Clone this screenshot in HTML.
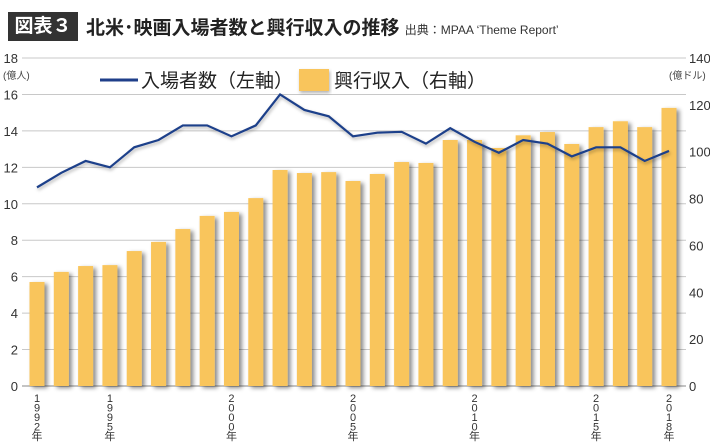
<!DOCTYPE html>
<html><head><meta charset="utf-8"><style>
body{margin:0;width:710px;height:448px;background:#fff;font-family:"Liberation Sans","Noto Sans CJK JP",sans-serif;overflow:hidden;position:relative}
.hdr{position:absolute;left:8px;top:12px;width:70px;height:29px;background:#333;color:#fff;font-weight:bold;font-size:19px;line-height:29px;text-align:center}
.title{position:absolute;left:86px;top:13px;font-size:19px;font-weight:bold;color:#222;white-space:nowrap}
.src{font-size:12px;font-weight:normal;color:#333}
svg{position:absolute;left:0;top:0}
</style></head><body>
<div class="hdr">図表３</div>
<div class="title">北米･映画入場者数と興行収入の推移 <span class="src">出典：MPAA ‘Theme Report’</span></div>
<svg id="c" width="710" height="448"></svg>
<script>
const years=[1992,1993,1994,1995,1996,1997,1998,1999,2000,2001,2002,2003,2004,2005,2006,2007,2008,2009,2010,2011,2012,2013,2014,2015,2016,2017,2018];
const revenue=[44.4,48.7,51.2,51.6,57.6,61.5,67,72.6,74.3,80.2,92.2,90.9,91.3,87.5,90.5,95.6,95.2,105,105,101.6,107,108.4,103.3,110.5,113,110.5,118.7];
const admissions=[10.9,11.7,12.35,12.0,13.1,13.5,14.3,14.3,13.7,14.3,16.0,15.15,14.8,13.7,13.9,13.95,13.3,14.15,13.4,12.8,13.5,13.3,12.6,13.1,13.1,12.35,12.9];
const leftTicks=[0,2,4,6,8,10,12,14,16,18];
const rightTicks=[0,20,40,60,80,100,120,140];
const labeledYears=[1992,1995,2000,2005,2010,2015,2018];
const NS="http://www.w3.org/2000/svg",svg=document.getElementById('c');
const x0=37,dx=(669-37)/26,yb=386,yt=58;
const xS=i=>x0+i*dx;
const yL=v=>yb-v/18*(yb-yt);
const yR=v=>yb-v/140*(yb-yt);
function el(t,a,p){const e=document.createElementNS(NS,t);for(const k in a)e.setAttribute(k,a[k]);(p||svg).appendChild(e);return e;}
const defs=el('defs',{});
const f=el('filter',{id:'sh',x:'-50%',y:'-10%',width:'200%',height:'130%'},defs);
el('feDropShadow',{dx:'3',dy:'2',stdDeviation:'2','flood-color':'#000','flood-opacity':'0.45'},f);
const f2=el('filter',{id:'sh2',x:'-10%',y:'-10%',width:'120%',height:'130%'},defs);
el('feDropShadow',{dx:'1',dy:'2',stdDeviation:'1.5','flood-color':'#000','flood-opacity':'0.3'},f2);
leftTicks.forEach(v=>{
  const g=el('line',{x1:22,x2:686,y1:yL(v),y2:yL(v),stroke:v===0?'#888':'#c8c8c8','stroke-width':1});
  
  
  const t=el('text',{x:18,y:yL(v)+5,'text-anchor':'end','font-size':13,fill:'#333'});t.textContent=v;
  
  
});
rightTicks.forEach(v=>{
  const t=el('text',{x:689,y:yR(v)+5,'font-size':13,fill:'#333'});t.textContent=v;
  
  
});
[['(億人)',3],['(億ドル)',669]].forEach(([s,x])=>{const t=el('text',{x:x,y:79,'font-size':10,fill:'#444'});t.textContent=s;
  
  });
revenue.forEach((v,i)=>{
  const r=el('rect',{x:xS(i)-7.5,y:yR(v),width:15,height:yb-yR(v),fill:'#f9c55c',filter:'url(#sh)'});
  
  
});
const p=el('polyline',{points:admissions.map((v,i)=>xS(i)+','+yL(v)).join(' '),fill:'none',stroke:'#1f3f8a','stroke-width':2.2,filter:'url(#sh2)'});


labeledYears.forEach(y=>{
  const i=years.indexOf(y);const s=String(y)+'年';
  for(let k=0;k<s.length;k++){const t=el('text',{x:xS(i),y:402+k*9.5,'text-anchor':'middle','font-size':11,fill:'#333'});t.textContent=s[k];
    
    }
});
// legend
const ll=el('line',{x1:100,x2:138,y1:80,y2:80,stroke:'#1f3f8a','stroke-width':3});


const t1=el('text',{x:141,y:87,'font-size':19,fill:'#222'});t1.textContent='入場者数（左軸）';


const lr=el('rect',{x:299,y:69,width:30,height:22,fill:'#f9c55c',filter:'url(#sh2)'});


const t2=el('text',{x:334,y:87,'font-size':19,fill:'#222'});t2.textContent='興行収入（右軸）';


</script>
</body></html>
